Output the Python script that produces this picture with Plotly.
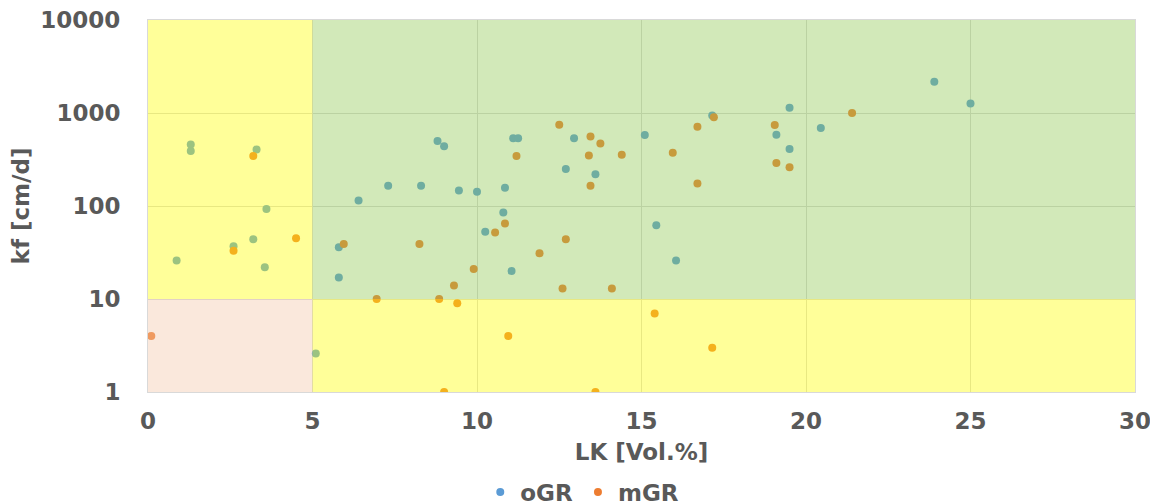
import plotly.graph_objects as go

# oGR series
ogr_x = [1.3, 1.3, 3.3, 3.6, 3.2, 2.6, 0.87, 3.55, 5.1, 5.8, 5.8, 6.4, 7.3, 8.3, 8.8, 9.0,
         9.45, 10.0, 10.85, 11.1, 11.25, 10.8, 10.25, 11.05, 12.95, 12.7, 13.6, 15.1,
         17.15, 19.1, 19.5, 19.5, 20.45, 23.9, 25.0, 15.45, 16.05]
ogr_y = [460, 390, 405, 93, 44, 37, 26, 22, 2.6, 36, 17, 115, 165, 165, 500, 440,
         147, 142, 157, 535, 535, 85, 53, 20, 535, 250, 220, 580,
         940, 585, 410, 1140, 690, 2170, 1270, 62, 26]

# mGR series
mgr_x = [0.1, 2.6, 3.2, 4.5, 5.95, 6.95, 8.25, 8.85, 9.0, 9.3, 9.4, 9.9, 10.55, 10.85,
         10.95, 11.2, 11.9, 12.5, 12.6, 12.7, 13.4, 13.45, 13.45, 13.6, 13.75, 14.1,
         14.4, 15.4, 15.95, 16.7, 16.7, 17.15, 17.2, 19.05, 19.1, 19.5, 21.4]
mgr_y = [4, 33, 345, 45, 39, 10, 39, 10, 1, 14, 9, 21, 52, 65,
         4, 345, 31, 750, 13, 44, 350, 165, 560, 1, 470, 13,
         355, 7, 375, 710, 175, 3, 900, 745, 290, 262, 1000]

series_names = ["oGR", "mGR"]
series_colors = ["#5b9bd5", "#ed7d31"]

# zones: (x0, x1, kf0, kf1, color)
zones = [
    (0, 5, 10, 10000, "rgba(255,255,0,0.4)"),
    (5, 30, 10, 10000, "rgba(142,201,80,0.4)"),
    (0, 5, 1, 10, "rgba(242,197,167,0.4)"),
    (5, 30, 1, 10, "rgba(255,255,0,0.4)"),
]

x_ticks = [0, 5, 10, 15, 20, 25, 30]
y_ticks = [1, 10, 100, 1000, 10000]

txt = "#595959"
fnt = "DejaVu Sans"
fs = 23

fig = go.Figure()
for name, col, xs, ys in zip(series_names, series_colors, [ogr_x, mgr_x], [ogr_y, mgr_y]):
    fig.add_trace(go.Scatter(x=xs, y=ys, mode="markers", name=name,
                             marker=dict(color=col, size=8, line=dict(width=0))))

for x0, x1, y0, y1, c in zones:
    fig.add_shape(type="rect", xref="x", yref="y", x0=x0, x1=x1, y0=y0, y1=y1,
                  fillcolor=c, line=dict(width=0), layer="above")

bold = dict(family=fnt, size=fs, color=txt, weight="bold")

fig.update_layout(
    width=1158, height=504,
    margin=dict(l=140, r=31, t=12, b=120, autoexpand=False),
    paper_bgcolor="white", plot_bgcolor="white",
    font=dict(family=fnt, color=txt, size=fs),
    showlegend=True,
    legend=dict(orientation="h", x=0.44, xanchor="center", y=-0.269, yanchor="middle",
                font=bold, itemwidth=30, tracegroupgap=0),
)
fig.update_xaxes(range=[0, 30], tickvals=x_ticks, ticktext=[str(v) for v in x_ticks],
                 showgrid=True, gridcolor="#d9d9d9", zeroline=False,
                 showline=True, linecolor="#d9d9d9", mirror=True,
                 tickfont=bold, ticklabelstandoff=8, automargin=False,
                 title=dict(text="LK [Vol.%]", font=bold, standoff=11),
                 ticks="", ticklen=0)
fig.update_yaxes(type="log", range=[0, 4.0005], tickvals=y_ticks, ticktext=[str(v) for v in y_ticks],
                 showgrid=True, gridcolor="#d9d9d9", zeroline=False,
                 showline=True, linecolor="#d9d9d9", mirror=True,
                 tickfont=bold, ticklabelstandoff=22, automargin=False,
                 title=dict(text="kf [cm/d]", font=bold, standoff=18),
                 ticks="", ticklen=0, ticklabeloverflow="allow")

fig.write_html("out.html")
